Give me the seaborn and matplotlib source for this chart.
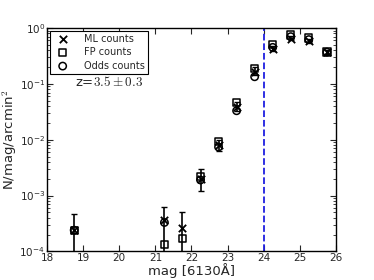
import matplotlib
matplotlib.use("Agg")
import matplotlib.pyplot as plt
import seaborn as sns
import numpy as np

sns.set_style("ticks")
plt.rcParams["font.family"] = ["DejaVu Sans"]
plt.rcParams["mathtext.fontset"] = "cm"

# Data
mag = [18.75, 21.25, 21.75, 22.25, 22.75, 23.25, 23.75, 24.25, 24.75, 25.25, 25.75]
ml_counts = [2.4e-4, 3.7e-4, 2.6e-4, 2.0e-3, 8.0e-3, 0.039, 0.16, 0.42, 0.64, 0.59, 0.37]
fp_counts = [2.4e-4, 1.33e-4, 1.7e-4, 2.2e-3, 9.2e-3, 0.046, 0.19, 0.50, 0.75, 0.66, 0.37]
odds_counts = [2.4e-4, 3.3e-4, None, 1.9e-3, 7.4e-3, 0.033, 0.134, 0.45, 0.70, 0.62, 0.37]
err_low = [1e-6, 1e-6, 1e-6, 1.2e-3, 6.3e-3, 0.033, 0.145, 0.39, 0.60, 0.55, 0.34]
err_high = [4.7e-4, 6.3e-4, 5.0e-4, 3.0e-3, 1.0e-2, 0.047, 0.20, 0.47, 0.72, 0.64, 0.40]
mag_limit = 24.0

fig = plt.figure(figsize=(3.74, 2.8), dpi=100)
ax = fig.add_axes([0.126, 0.102, 0.772, 0.798])

# Error bars
yerr = [np.array(ml_counts) - np.array(err_low), np.array(err_high) - np.array(ml_counts)]
ax.errorbar(mag, ml_counts, yerr=yerr, fmt="none", ecolor="k", elinewidth=1.2,
            capsize=2.5, capthick=1, zorder=2)

sns.scatterplot(x=mag, y=ml_counts, marker="x", color="k", s=28, linewidth=1.3,
                label="ML counts", ax=ax, zorder=3)
sns.scatterplot(x=mag, y=fp_counts, marker="s", s=28, facecolors="none",
                edgecolors="k", linewidth=1.1, label="FP counts", ax=ax, zorder=3)
odds_mag = [m for m, v in zip(mag, odds_counts) if v is not None]
odds_val = [v for v in odds_counts if v is not None]
sns.scatterplot(x=odds_mag, y=odds_val, marker="o", s=28, facecolors="none",
                edgecolors="k", linewidth=1.1, label="Odds counts", ax=ax, zorder=3)

ax.axvline(mag_limit, color="#1f1fe0", linestyle="--", linewidth=1.3)

ax.set_yscale("log")
ax.set_xlim(18, 26)
ax.set_ylim(1e-4, 1)
ax.set_xticks(range(18, 27))
ax.tick_params(axis="both", which="both", direction="in", top=True, right=True,
               labelsize=7.5, pad=1.5)
ax.tick_params(axis="x", pad=1)
ax.tick_params(which="major", length=4)
ax.tick_params(which="minor", length=2)
for s in ax.spines.values():
    s.set_linewidth(1)
    s.set_color("k")

ax.set_xlabel("mag [6130Å]", fontsize=9.5, labelpad=0.5)
ax.set_ylabel(r"N/mag/arcmin$^2$", fontsize=9.5, labelpad=0)

ax.text(0.097, 0.76, r"z=$3.5\pm0.3$", transform=ax.transAxes, fontsize=9.5,
        va="center")

leg = ax.legend(loc="upper left", fontsize=7, frameon=True, fancybox=False,
                edgecolor="k", framealpha=1, borderaxespad=0.3, handletextpad=1.2,
                labelspacing=0.35, borderpad=0.3)
leg.get_frame().set_linewidth(0.8)

fig.savefig("out.png", dpi=100)
